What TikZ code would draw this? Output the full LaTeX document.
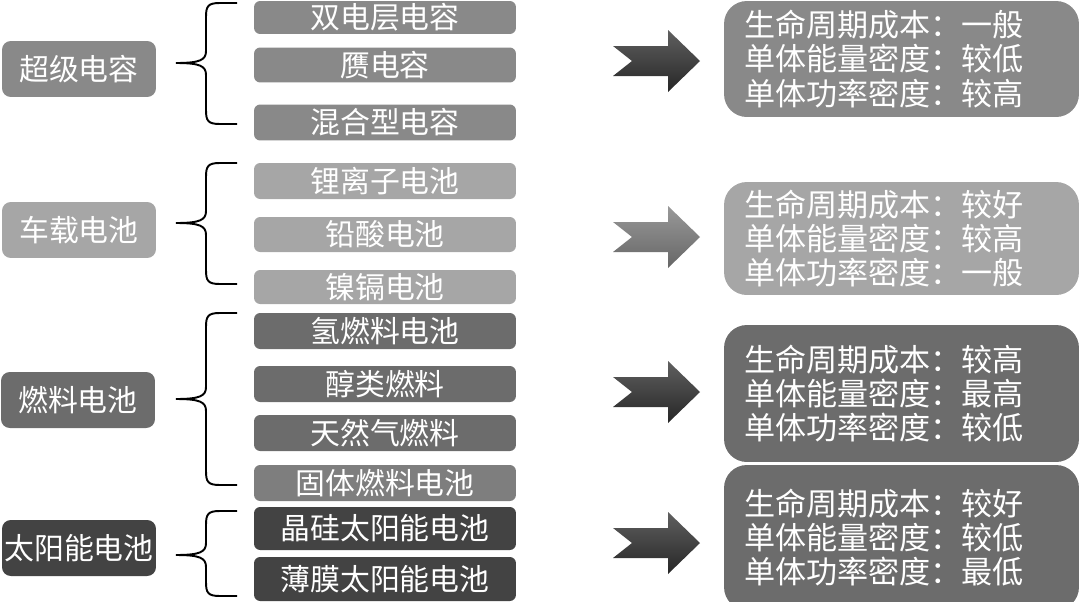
\documentclass[tikz,border=0pt]{standalone}
\usepackage{fontspec}
\setmainfont{Noto Sans CJK SC}
\usepackage{tikz}
\definecolor{gA}{HTML}{898989}
\definecolor{gB}{HTML}{A6A6A6}
\definecolor{gC}{HTML}{6C6C6C}
\definecolor{gD}{HTML}{434343}
\def\chev{-- ++(55,0) -- ++(0,-16) -- ++(32,31) -- ++(-32,31) -- ++(0,-16) -- ++(-55,0) -- ++(19,-15) -- cycle}
\def\gbrace#1#2#3{\draw[bracepen] (237,#1) -- (220,#1) .. controls (208,#1) and (206,#1+3) .. (206,#1+14) -- (206,#2-12) .. controls (206,#2-3) and (200,#2) .. (176,#2) .. controls (200,#2) and (206,#2+3) .. (206,#2+12) -- (206,#3-14) .. controls (206,#3-3) and (208,#3) .. (220,#3) -- (237,#3);}

\begin{document}
\begin{tikzpicture}[x=0.02cm,y=-0.02cm,
    every node/.style={text=white,font=\fontsize{17}{19.3}\selectfont,inner sep=0pt},
    catbox/.style={rounded corners=5pt,minimum width=3.08cm,minimum height=1.12cm},
    itembox/.style={rounded corners=3.5pt,minimum width=5.24cm},
    infobox/.style={rounded corners=13pt,inner xsep=0.4cm,text width=6.3cm,align=left,
      font=\fontsize{17.7}{19.4}\selectfont},
    bracepen/.style={line width=1.1pt,black},
    arrdark/.style={top color=gray!75!black,bottom color=black!85},
    arrlight/.style={top color=gray!80,bottom color=gray!80!black}]
\useasboundingbox (0,0) rectangle (1079,602);

% categories
\node[catbox,fill=gA] (cap)   at (79,69)  {超级电容};
\node[catbox,fill=gB] (bat)   at (79,230) {车载电池};
\node[catbox,fill=gC] (fuel)  at (78,400) {燃料电池};
\node[catbox,fill=gD] (solar) at (79,548) {太阳能电池};

% items
\node[itembox,fill=gA,minimum height=0.66cm] (edlc)  at (385,17.5)  {双电层电容};
\node[itembox,fill=gA,minimum height=0.7cm]  (pseu)  at (385,65)    {赝电容};
\node[itembox,fill=gA,minimum height=0.72cm] (hyb)   at (385,122.5) {混合型电容};
\node[itembox,fill=gB,minimum height=0.72cm] (li)    at (385,181)   {锂离子电池};
\node[itembox,fill=gB,minimum height=0.7cm]  (pb)    at (385,234.5) {铅酸电池};
\node[itembox,fill=gB,minimum height=0.68cm] (nicd)  at (385,287)   {镍镉电池};
\node[itembox,fill=gC,minimum height=0.72cm] (h2)    at (385,331)   {氢燃料电池};
\node[itembox,fill=gC,minimum height=0.72cm] (alc)   at (385,384)   {醇类燃料};
\node[itembox,fill=gC,minimum height=0.72cm] (gas)   at (385,433)   {天然气燃料};
\node[itembox,fill=gC!88!white,minimum height=0.72cm] (sofc) at (385,483) {固体燃料电池};
\node[itembox,fill=gD,minimum height=0.86cm] (csi)   at (385,528.5) {晶硅太阳能电池};
\node[itembox,fill=gD,minimum height=0.88cm] (film)  at (385,579)   {薄膜太阳能电池};

% braces
\gbrace{3}{63}{124}
\gbrace{163}{223}{284}
\gbrace{313}{399}{485}
\gbrace{511}{555}{596}

% arrows
\shade[arrdark]  (613,46)  \chev;
\shade[arrlight] (613,222) \chev;
\shade[arrdark]  (613,377) \chev;
\shade[arrdark]  (613,528) \chev;

% properties
\node[infobox,fill=gA,minimum height=2.32cm] (capinfo) at (901.5,59)
  {生命周期成本：一般\\单体能量密度：较低\\单体功率密度：较高};
\node[infobox,fill=gB,minimum height=2.26cm] (batinfo) at (901.5,238.5)
  {生命周期成本：较好\\单体能量密度：较高\\单体功率密度：一般};
\node[infobox,fill=gC,minimum height=2.74cm] (fuelinfo) at (901.5,393.5)
  {生命周期成本：较高\\单体能量密度：最高\\单体功率密度：较低};
\node[infobox,fill=gC,minimum height=2.9cm] (solarinfo) at (901.5,537.5)
  {生命周期成本：较好\\单体能量密度：较低\\单体功率密度：最低};
\end{tikzpicture}
\end{document}
